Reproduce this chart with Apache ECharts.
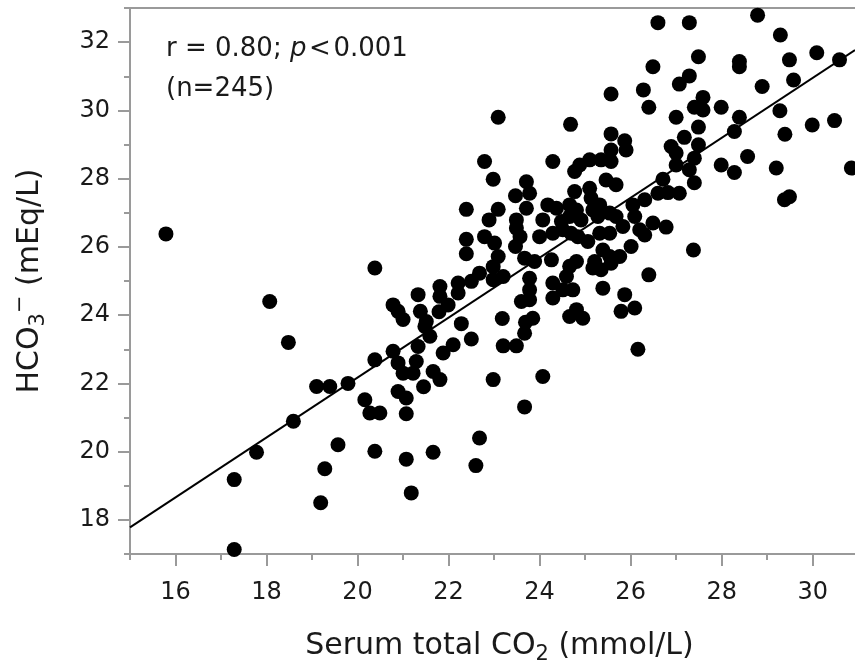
<!DOCTYPE html>
<html>
<head>
<meta charset="utf-8">
<script src="https://cdn.jsdelivr.net/npm/echarts@6/dist/echarts.min.js"></script>
<style>
html, body { margin: 0; padding: 0; background: #fff; }
#chart { width: 855px; height: 668px; }
</style>
</head>
<body>
<div id="chart"></div>
<script>
// serum total CO2 (mmol/L)
var co2 = [
  15.79, 17.29, 17.29, 17.78, 18.07, 18.48, 18.59, 19.10, 19.19, 19.28,
  19.39, 19.57, 19.79, 20.16, 20.27, 20.49, 20.38, 20.38, 20.38, 20.78,
  20.89, 21.00, 21.22, 21.29, 21.33, 20.89, 21.07, 21.07, 21.07, 21.18,
  21.45, 20.78, 20.89, 21.00, 21.38, 21.33, 21.66, 21.48, 21.59, 21.79,
  22.28, 22.50, 22.10, 21.88, 21.66, 21.81, 22.98, 23.18, 23.20, 23.49,
  23.69, 23.67, 23.67, 22.68, 22.60, 22.79, 22.98, 22.39, 23.09, 22.89,
  23.47, 23.71, 23.71, 23.49, 23.49, 23.57, 23.47, 22.39, 22.39, 22.79,
  23.01, 23.09, 22.98, 22.68, 22.50, 23.20, 22.98, 22.21, 22.21, 21.81,
  21.81, 21.99, 21.51, 23.67, 23.60, 23.09, 25.57, 24.68, 25.57, 25.87,
  25.90, 25.57, 24.29, 25.10, 24.88, 25.35, 25.57, 24.77, 25.46, 25.68,
  25.10, 23.78, 24.77, 25.13, 25.32, 24.18, 24.37, 24.66, 24.81, 24.66,
  24.91, 25.17, 25.28, 24.07, 24.48, 25.54, 25.68, 26.05, 24.00, 24.29,
  24.51, 24.69, 24.84, 25.06, 25.32, 25.54, 25.83, 26.01, 25.39, 25.54,
  25.76, 23.89, 24.26, 24.81, 24.66, 24.59, 24.29, 24.51, 24.73, 24.29,
  23.78, 23.78, 23.78, 23.85, 24.66, 24.81, 24.95, 25.21, 25.35, 25.17,
  25.57, 25.39, 25.87, 25.79, 26.09, 24.07, 26.16, 26.60, 27.29, 28.79,
  29.29, 27.49, 26.49, 28.39, 28.39, 29.49, 30.09, 30.59, 27.29, 27.07,
  28.89, 29.58, 26.28, 26.40, 27.59, 27.40, 27.59, 27.99, 27.00, 28.39,
  29.28, 28.28, 27.49, 27.18, 27.49, 29.39, 29.99, 30.48, 26.89, 27.00,
  27.40, 28.57, 27.00, 27.29, 27.99, 28.28, 29.20, 30.85, 27.40, 26.71,
  27.07, 26.82, 26.60, 26.31, 29.38, 29.49, 26.09, 26.20, 26.31, 26.49,
  26.78, 27.38, 26.40
];
// HCO3- (mEq/L)
var hco3 = [
  26.38, 19.18, 17.13, 19.98, 24.40, 23.20, 20.89, 21.91, 18.50, 19.50,
  21.91, 20.20, 22.00, 21.52, 21.13, 21.13, 22.69, 20.01, 25.38, 22.94,
  22.60, 22.30, 22.30, 22.64, 23.08, 21.76, 21.57, 21.11, 19.78, 18.79,
  21.90, 24.30, 24.11, 23.87, 24.11, 24.60, 19.98, 23.67, 23.38, 24.10,
  23.75, 23.30, 23.13, 22.89, 22.35, 22.11, 22.11, 23.90, 23.10, 23.10,
  23.79, 23.47, 21.31, 20.40, 19.59, 28.50, 27.98, 27.10, 27.10, 26.79,
  27.50, 27.91, 27.13, 26.79, 26.55, 26.30, 26.01, 26.22, 25.80, 26.30,
  26.11, 25.72, 25.42, 25.23, 24.99, 25.13, 25.04, 24.94, 24.65, 24.84,
  24.55, 24.30, 23.81, 25.67, 24.40, 29.80, 30.48, 29.59, 29.31, 29.11,
  28.84, 28.84, 28.50, 28.55, 28.40, 28.55, 28.50, 28.21, 27.96, 27.82,
  27.72, 27.57, 27.62, 27.43, 27.23, 27.23, 27.13, 27.23, 27.08, 26.89,
  26.79, 27.08, 26.89, 26.79, 26.74, 26.99, 26.89, 27.23, 26.30, 26.40,
  26.50, 26.40, 26.30, 26.16, 26.40, 26.40, 26.60, 26.01, 25.91, 25.72,
  25.72, 25.57, 25.62, 25.57, 25.43, 25.13, 24.94, 24.74, 24.74, 24.50,
  25.08, 24.74, 24.45, 23.91, 23.96, 24.16, 23.91, 25.57, 25.33, 25.38,
  25.52, 24.79, 24.60, 24.11, 24.21, 22.20, 23.00, 32.57, 32.57, 32.79,
  32.21, 31.57, 31.28, 31.43, 31.28, 31.48, 31.69, 31.48, 31.01, 30.77,
  30.70, 30.89, 30.60, 30.09, 30.38, 30.09, 30.01, 30.09, 29.80, 29.80,
  29.99, 29.38, 29.51, 29.21, 28.99, 29.30, 29.57, 29.70, 28.94, 28.75,
  28.60, 28.65, 28.40, 28.26, 28.40, 28.18, 28.31, 28.31, 27.88, 27.98,
  27.57, 27.59, 27.57, 27.38, 27.38, 27.47, 26.89, 26.50, 26.35, 26.70,
  26.58, 25.91, 25.18
];

// fitted regression line, end points
var fitX = [15, 30.93];
var fitY = [17.78, 31.77];

// axis ranges and ticks
var xMin = 15, xMax = 30.93;
var yMin = 17, yMax = 33;
var xMajor = [16, 18, 20, 22, 24, 26, 28, 30];
var xMinor = [15, 17, 19, 21, 23, 25, 27, 29];
var yMajor = [18, 20, 22, 24, 26, 28, 30, 32];
var yMinor = [17, 19, 21, 23, 25, 27, 29, 31, 33];

var points = [];
for (var i = 0; i < co2.length; i++) {
  points.push([co2[i], hco3[i]]);
}
var fitLine = [];
for (var j = 0; j < fitX.length; j++) {
  fitLine.push([fitX[j], fitY[j]]);
}

var FONT = 'DejaVu Sans';
var axisGray = '#9a9a9a';
var textColor = '#1a1a1a';

var myChart = echarts.init(document.getElementById('chart'));

var option = {
  animation: false,
  backgroundColor: '#fff',
  grid: { left: 130, right: 0, top: 8, bottom: 114, outerBoundsMode: 'none' },
  xAxis: [
    {
      // main axis, labels at even values
      type: 'value', min: xMin, max: xMax, position: 'bottom',
      splitLine: { show: false },
      axisLine: { show: true, onZero: false, lineStyle: { color: axisGray, width: 2 } },
      axisTick: { show: true, customValues: xMajor, length: 12, lineStyle: { color: axisGray, width: 2 } },
      axisLabel: { customValues: xMajor, margin: 27, fontSize: 24, fontFamily: FONT, color: textColor },
      name: 'Serum total CO{sub|2} (mmol/L)',
      nameLocation: 'middle',
      nameGap: 72,
      nameTextStyle: {
        fontSize: 30, fontFamily: FONT, color: textColor, lineHeight: 40,
        padding: [0, 0, 0, 14],
        rich: { sub: { fontSize: 21, fontFamily: FONT, color: textColor, padding: [18, 0, 0, 0] } }
      }
    },
    {
      // minor ticks at odd values
      type: 'value', min: xMin, max: xMax, position: 'bottom',
      splitLine: { show: false },
      axisLine: { show: false, onZero: false },
      axisTick: { show: true, customValues: xMinor, length: 6, lineStyle: { color: axisGray, width: 2 } },
      axisLabel: { show: false }
    },
    {
      // top frame line
      type: 'value', min: xMin, max: xMax, position: 'top',
      splitLine: { show: false },
      axisLine: { show: true, onZero: false, lineStyle: { color: axisGray, width: 2 } },
      axisTick: { show: false },
      axisLabel: { show: false }
    }
  ],
  yAxis: [
    {
      type: 'value', min: yMin, max: yMax, position: 'left',
      splitLine: { show: false },
      axisLine: { show: true, onZero: false, lineStyle: { color: axisGray, width: 2 } },
      axisTick: { show: true, customValues: yMajor, length: 12, lineStyle: { color: axisGray, width: 2 } },
      axisLabel: { customValues: yMajor, margin: 20, fontSize: 24, fontFamily: FONT, color: textColor },
      name: 'HCO{sub|3}{sup|−} (mEq/L)',
      nameLocation: 'middle',
      nameRotate: 90,
      nameGap: 80,
      nameTextStyle: {
        fontSize: 30, fontFamily: FONT, color: textColor, lineHeight: 40,
        rich: {
          sub: { fontSize: 21, fontFamily: FONT, color: textColor, padding: [18, 0, 0, 0] },
          sup: { fontSize: 21, fontFamily: FONT, color: textColor, padding: [0, 0, 18, 0] }
        }
      }
    },
    {
      type: 'value', min: yMin, max: yMax, position: 'left',
      splitLine: { show: false },
      axisLine: { show: false, onZero: false },
      axisTick: { show: true, customValues: yMinor, length: 6, lineStyle: { color: axisGray, width: 2 } },
      axisLabel: { show: false }
    }
  ],
  series: [
    {
      type: 'scatter',
      data: points,
      symbol: 'circle',
      symbolSize: 15,
      itemStyle: { color: '#000', opacity: 1 },
      xAxisIndex: 0, yAxisIndex: 0
    },
    {
      type: 'line',
      data: fitLine,
      showSymbol: false,
      lineStyle: { color: '#000', width: 2 },
      xAxisIndex: 0, yAxisIndex: 0,
      z: 3
    }
  ],
  graphic: [
    {
      type: 'text', left: 166, top: 36,
      style: {
        text: 'r = 0.80; {i|p}\u200a<\u200a0.001',
        fontSize: 26, fontFamily: FONT, fill: textColor,
        rich: { i: { fontStyle: 'italic', fontSize: 26, fontFamily: FONT, fill: textColor } }
      }
    },
    {
      type: 'text', left: 166, top: 76,
      style: { text: '(n=245)', fontSize: 26, fontFamily: FONT, fill: textColor }
    }
  ]
};

myChart.setOption(option);
</script>
</body>
</html>
